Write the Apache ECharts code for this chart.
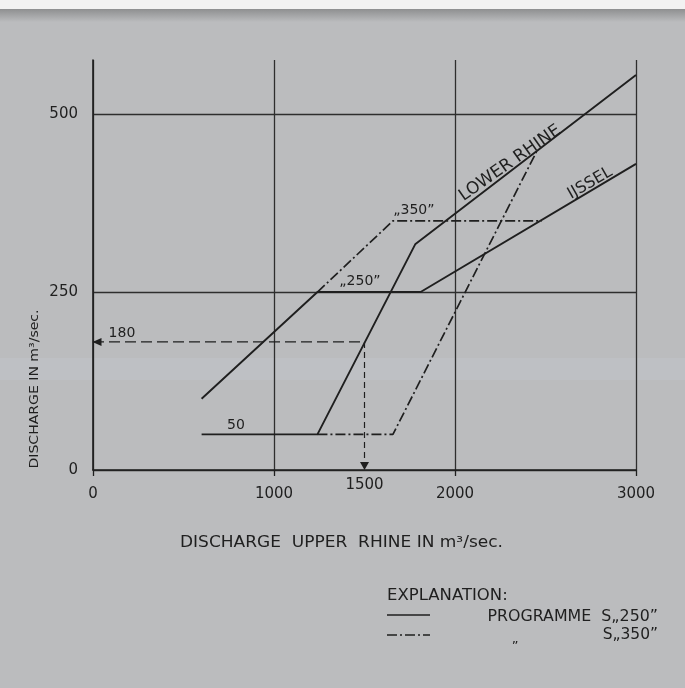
<!DOCTYPE html>
<html><head><meta charset="utf-8">
<script src="https://cdn.jsdelivr.net/npm/echarts@6/dist/echarts.min.js"></script>
<style>html,body{margin:0;padding:0;background:#bbbcbe}#c{width:685px;height:688px}</style>
</head><body><div id="c"></div>
<script>
// ---- data (m3/sec) ----
const xTicks = [0, 1000, 2000, 3000];
const yTicks = [0, 250, 500];
const ijssel250 = [[600, 100], [1240, 250], [1810, 250], [3000, 430]];
const lowerRhine250 = [[600, 50], [1240, 50], [1780, 317], [3000, 555]];
const ijssel350 = [[1240, 250], [1657, 350], [2480, 350]];
const lowerRhine350 = [[1240, 50], [1657, 50], [2450, 447]];
const readingUpper = 1500;
const readingLower = 180;
const readingH = [[0, readingLower], [readingUpper, readingLower]];
const readingV = [[readingUpper, readingLower], [readingUpper, 0]];

const INK = '#1f1f1f';
const FONT = 'DejaVu Sans';
const chart = echarts.init(document.getElementById('c'), null, {renderer: 'canvas'});

const solid = {color: INK, width: 1.9, type: 'solid'};
const dashDot = {color: INK, width: 1.7, type: [10, 3, 2, 3]};

function lineSeries(name, data, style) {
  return {name, type: 'line', data, xAxisIndex: 0, yAxisIndex: 0,
    symbol: 'none', lineStyle: style, silent: true, animation: false, z: 5};
}

const annotations = [
  {name: String(readingLower), value: [160, 192]},
  {name: '50', value: [790, 63]},
  {name: '\u201E250\u201D', value: [1475, 265]},
  {name: '\u201E350\u201D', value: [1773, 365]},
  {name: 'LOWER RHINE', value: [2304, 431], label: {rotate: 35, fontSize: 17}},
  {name: 'IJSSEL', value: [2746, 403], label: {rotate: 30, fontSize: 16}}
];

const option = {
  backgroundColor: '#bbbcbe',
  animation: false,
  grid: {left: 93, right: 49, top: 60, bottom: 218, containLabel: false},
  xAxis: [{
    type: 'value', min: xTicks[0], max: xTicks[xTicks.length - 1], interval: xTicks[1] - xTicks[0],
    axisLine: {show: true, lineStyle: {color: INK, width: 1.6}},
    axisTick: {show: true, length: 6, lineStyle: {color: INK, width: 1.3}},
    axisLabel: {margin: 17, fontSize: 15, color: INK, fontFamily: FONT, formatter: v => String(v)},
    splitLine: {show: true, lineStyle: {color: '#2e2e2e', width: 1.3}}
  }, {
    type: 'value', position: 'bottom', min: xTicks[0], max: xTicks[xTicks.length - 1], interval: 500,
    axisLine: {show: false}, axisTick: {show: false}, splitLine: {show: false},
    axisLabel: {margin: 8, fontSize: 15, color: INK, fontFamily: FONT,
      formatter: v => (v === readingUpper ? String(v) : '')}
  }],
  yAxis: {
    type: 'value', min: 0, max: 576, interval: yTicks[1] - yTicks[0],
    axisLine: {show: true, lineStyle: {color: INK, width: 1.6}},
    axisTick: {show: false},
    axisLabel: {margin: 15, fontSize: 15, color: INK, fontFamily: FONT, showMaxLabel: false,
      formatter: v => (yTicks.indexOf(v) >= 0 ? String(v) : '')},
    splitLine: {show: true, showMaxLine: false, lineStyle: {color: '#2e2e2e', width: 1.3}}
  },
  series: [
    lineSeries('IJssel S250', ijssel250, solid),
    lineSeries('Lower Rhine S250', lowerRhine250, solid),
    lineSeries('IJssel S350', ijssel350, dashDot),
    lineSeries('Lower Rhine S350', lowerRhine350, dashDot),
    {
      name: 'reading-h', type: 'line', silent: true, z: 4,
      data: [{value: readingH[0], symbol: 'triangle', symbolSize: [8, 9], symbolRotate: 90, symbolOffset: [4, 0]},
             {value: readingH[1], symbol: 'none'}],
      symbol: 'none', lineStyle: {color: INK, width: 1.2, type: [11, 5]}, itemStyle: {color: INK}
    },
    {
      name: 'reading-v', type: 'line', silent: true, z: 4,
      data: [{value: readingV[0], symbol: 'none'},
             {value: readingV[1], symbol: 'triangle', symbolSize: [9, 8], symbolRotate: 180, symbolOffset: [0, -4]}],
      symbol: 'none', lineStyle: {color: INK, width: 1.2, type: [6, 4]}, itemStyle: {color: INK}
    },
    {
      name: 'annotations', type: 'scatter', symbolSize: 0, clip: false, silent: true, z: 6,
      itemStyle: {opacity: 1, color: INK},
      data: annotations,
      label: {show: true, position: 'inside', formatter: p => p.name, color: INK,
        textBorderWidth: 0, textBorderColor: 'transparent',
        fontFamily: FONT, fontSize: 14}
    }
  ],
  graphic: [
    {type: 'rect', shape: {x: 0, y: 0, width: 685, height: 9}, style: {fill: '#f2f2f2'}, z: -10, silent: true},
    {type: 'rect', shape: {x: 0, y: 9, width: 685, height: 13}, silent: true, z: -10,
      style: {fill: new echarts.graphic.LinearGradient(0, 0, 0, 1, [
        {offset: 0, color: '#8e8f90'}, {offset: 1, color: '#bbbcbe'}])}},
    {type: 'rect', shape: {x: 0, y: 358, width: 685, height: 22}, silent: true, z: -10,
      style: {fill: 'rgba(200,204,214,0.25)'}},
    {type: 'text', x: 35, y: 389, rotation: Math.PI / 2, scaleX: 1.08, silent: true,
      style: {text: 'DISCHARGE IN m\u00B3/sec.', fill: INK, font: '13px "DejaVu Sans"',
        align: 'center', verticalAlign: 'middle'}},
    {type: 'text', x: 180, y: 543, scaleX: 1.134, silent: true,
      style: {text: 'DISCHARGE  UPPER  RHINE IN m\u00B3/sec.', fill: INK, font: '15px "DejaVu Sans"',
        align: 'left', verticalAlign: 'middle'}},
    {type: 'text', x: 387, y: 596, scaleX: 1.1, silent: true,
      style: {text: 'EXPLANATION:', fill: INK, font: '15px "DejaVu Sans"',
        align: 'left', verticalAlign: 'middle'}},
    {type: 'line', shape: {x1: 387, y1: 615, x2: 430, y2: 615}, silent: true,
      style: {stroke: INK, lineWidth: 1.6}},
    {type: 'text', x: 658, y: 617, scaleX: 1.056, silent: true,
      style: {text: 'PROGRAMME  S\u201E250\u201D', fill: INK, font: '15px "DejaVu Sans"',
        align: 'right', verticalAlign: 'middle'}},
    {type: 'line', shape: {x1: 387, y1: 635, x2: 430, y2: 635}, silent: true,
      style: {stroke: INK, lineWidth: 1.6, lineDash: [10, 3, 2, 3]}},
    {type: 'text', x: 515, y: 640, silent: true,
      style: {text: '\u201E', fill: INK, font: '13px "DejaVu Sans"', align: 'center', verticalAlign: 'middle'}},
    {type: 'text', x: 658, y: 635, scaleX: 1.03, silent: true,
      style: {text: 'S\u201E350\u201D', fill: INK, font: '15px "DejaVu Sans"',
        align: 'right', verticalAlign: 'middle'}}
  ]
};
chart.setOption(option);
</script></body></html>
